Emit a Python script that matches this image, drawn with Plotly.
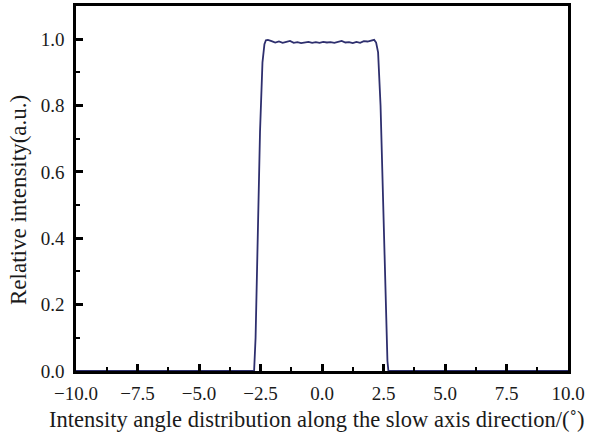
import plotly.graph_objects as go

# Angle (degrees) and relative intensity
angle = [-10.0, -2.76, -2.70, -2.62, -2.52, -2.42, -2.34, -2.28, -2.20, -2.05, -1.90,
         -1.75, -1.60, -1.45, -1.30, -1.15, -1.00, -0.85, -0.70, -0.55, -0.40,
         -0.25, -0.10, 0.05, 0.20, 0.35, 0.50, 0.65, 0.80, 0.95, 1.10, 1.25,
         1.40, 1.55, 1.70, 1.85, 2.00, 2.12, 2.20, 2.28, 2.38, 2.48, 2.58, 2.66, 2.70, 10.0]
intensity = [0.0, 0.0, 0.10, 0.38, 0.72, 0.93, 0.985, 0.997, 0.998, 0.994, 0.990,
             0.993, 0.989, 0.992, 0.995, 0.989, 0.991, 0.988, 0.990, 0.992, 0.989,
             0.991, 0.989, 0.992, 0.990, 0.991, 0.989, 0.993, 0.995, 0.990, 0.991,
             0.988, 0.992, 0.989, 0.994, 0.993, 0.997, 0.998, 0.99, 0.96, 0.80, 0.50, 0.20, 0.03, 0.0, 0.0]

x_ticks = [-10.0, -7.5, -5.0, -2.5, 0.0, 2.5, 5.0, 7.5, 10.0]
y_ticks = [0.0, 0.2, 0.4, 0.6, 0.8, 1.0]

x_title = "Intensity angle distribution along the slow axis direction/(˚)"
y_title = "Relative intensity(a.u.)"

font_family = "Liberation Serif, DejaVu Serif, serif"

fig = go.Figure()
fig.add_trace(go.Scatter(x=angle, y=intensity, mode="lines",
                         line=dict(color="#2e2f6e", width=1.8), showlegend=False))

axis_common = dict(
    showline=True, linecolor="black", linewidth=2.5, mirror=True,
    ticks="inside", ticklen=7, tickwidth=2.5, tickcolor="black",
    showgrid=False, zeroline=False, automargin=False,
    tickfont=dict(family=font_family, size=19, color="#1a1a1a"),
)

fig.update_xaxes(range=[-10, 10], tickvals=x_ticks, tickformat=".1f", ticklabelstandoff=3,
                 minor=dict(ticks="inside", ticklen=4, tickwidth=2, tickcolor="black", dtick=1.25, tick0=0),
                 **axis_common)
fig.update_yaxes(range=[0, 1.1], tickvals=y_ticks, tickformat=".1f", ticklabelstandoff=5,
                 minor=dict(ticks="inside", ticklen=4, tickwidth=2, tickcolor="black", dtick=0.1, tick0=0),
                 **axis_common)

fig.add_annotation(text=x_title, xref="paper", yref="paper", x=0.4898, y=-0.133,
                   xanchor="center", yanchor="middle", showarrow=False,
                   font=dict(family=font_family, size=22.5, color="#1a1a1a"))
fig.add_annotation(text=y_title, xref="paper", yref="paper", x=-0.1159, y=0.4685,
                   xanchor="center", yanchor="middle", showarrow=False, textangle=-90,
                   font=dict(family=font_family, size=23, color="#1a1a1a"))

fig.update_layout(width=590, height=434, margin=dict(l=76, r=22, t=6, b=63),
                  paper_bgcolor="white", plot_bgcolor="white")

fig.write_html("out.html", config={"displayModeBar": False},
               post_script="document.body.style.margin='0';document.body.style.overflow='hidden';")
